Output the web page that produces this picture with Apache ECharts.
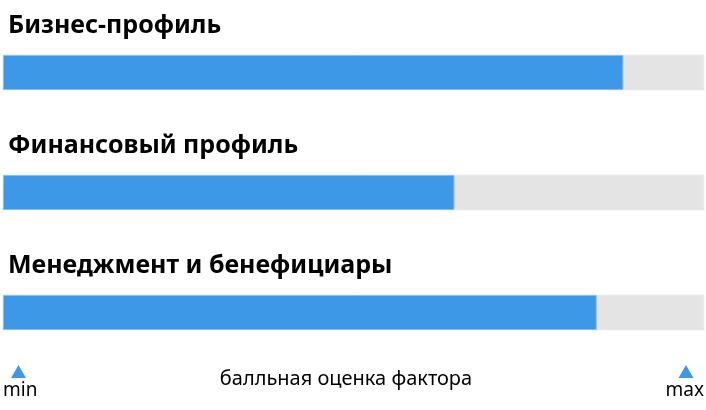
<!DOCTYPE html>
<html><head><meta charset="utf-8">
<script src="https://cdn.jsdelivr.net/npm/echarts@6/dist/echarts.min.js"></script>
<style>html,body{margin:0;padding:0;background:#fff}#c{width:706px;height:410px}</style>
</head><body><div id="c"></div>
<script>
const categories = ['Бизнес-профиль', 'Финансовый профиль', 'Менеджмент и бенефициары'];
const scores = [88.5, 64.4, 84.7];
const scaleMin = 0, scaleMax = 100;
const axisName = 'балльная оценка фактора';
const minLabel = 'min', maxLabel = 'max';

const BLUE = '#3d99e8';
const FONT = '"Noto Sans", sans-serif';
const chart = echarts.init(document.getElementById('c'));
chart.setOption({
  animation: false,
  grid: { left: 3, right: 2, top: 12.5, bottom: 37.5 },
  xAxis: { type: 'value', min: scaleMin, max: scaleMax, show: false },
  yAxis: { type: 'category', data: categories, inverse: true, show: false },
  series: [{
    type: 'bar',
    data: scores,
    barWidth: 35,
    itemStyle: { color: BLUE, borderColor: '#85bdf0', borderWidth: 1 },
    showBackground: true,
    backgroundStyle: { color: '#e4e4e4', borderColor: '#efefef', borderWidth: 1 },
    label: {
      show: true, formatter: '{b}', position: [5, -42],
      color: '#000', fontFamily: FONT, fontWeight: 'bold', fontSize: 25
    }
  }],
  graphic: [
    { type: 'polygon', shape: { points: [[18.5, 365], [11, 378], [26, 378]] }, style: { fill: BLUE } },
    { type: 'polygon', shape: { points: [[686, 365], [678.5, 378], [693.5, 378]] }, style: { fill: BLUE } },
    { type: 'text', left: 3, top: 381, style: { text: minLabel, fontFamily: FONT, fontSize: 19, fill: '#000' } },
    { type: 'text', right: 2, top: 381, style: { text: maxLabel, fontFamily: FONT, fontSize: 19, fill: '#000' } },
    { type: 'text', x: 346, y: 369, style: { text: axisName, align: 'center', fontFamily: FONT, fontSize: 20, fill: '#000' } }
  ]
});
</script></body></html>
